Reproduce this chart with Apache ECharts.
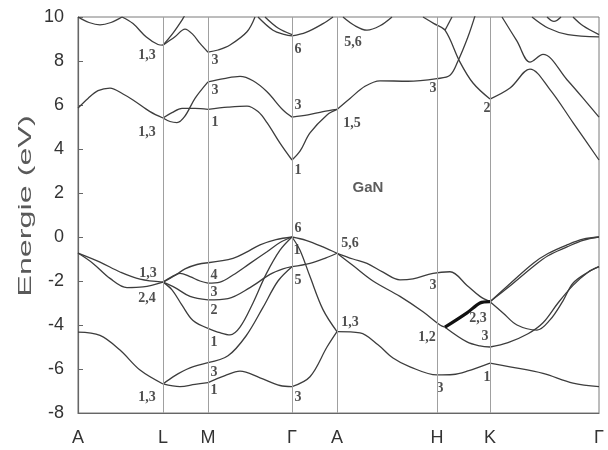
<!DOCTYPE html>
<html><head><meta charset="utf-8">
<script src="https://cdn.jsdelivr.net/npm/echarts@6/dist/echarts.min.js"></script>
<style>html,body{margin:0;padding:0;background:#fff}#c{width:608px;height:450px}</style>
</head><body><div id="c"></div>
<script>
// k-path: high-symmetry points (path coordinate) and their labels
const kPoints = [0, 85, 130, 214, 259, 359, 412, 521];
const kLabels = ['A', 'L', 'M', 'Γ', 'A', 'H', 'K', 'Γ'];

// Conduction bands [k, E(eV)]
const cAL1 = [[0,5.86],[10,6.3],[20,6.65],[32,6.77],[45,6.5],[55,6.23],[72,5.7],[85,5.41]];
const cAL2 = [[0,10],[11,9.75],[22,9.64],[33,9.75],[44,10]];
const cAL3 = [[44,10],[55,9.7],[68,9.1],[80,8.75],[85,8.72]];
const cLM1 = [[85,8.72],[95,9.27],[104,9.86],[107,10.1]];
const cLM2 = [[85,8.72],[97,9.1],[107,9.45],[115,9.2],[122,8.8],[130,8.4]];
const cLM3 = [[85,5.41],[92,5.25],[99,5.2],[107,5.5],[117,6.3],[130,7.05]];
const cLM4 = [[85,5.41],[94,5.65],[104,5.85],[117,5.85],[130,5.8]];
const cMG1 = [[130,7.05],[146,7.2],[162,7.3],[175,7.1],[189,6.6],[205,5.77],[214,5.45]];
const cMG2 = [[130,5.8],[150,5.9],[169,5.95],[180,5.7],[189,5.2],[202,4.27],[214,3.5]];
const cMG3 = [[130,8.4],[140,8.5],[152,8.73],[169,9.33],[177,10]];
const cMG4 = [[180,10],[195,9.4],[207,9.2],[214,9.14]];
const cMG5 = [[187,10],[200,9.5],[214,9.2]];
const cGA1 = [[214,5.45],[230,5.55],[245,5.7],[259,5.8]];
const cGA2 = [[214,3.5],[222,3.9],[232,4.73],[249,5.55],[259,5.8]];
const cGA3 = [[214,9.14],[228,9.3],[245,9.7],[255,10]];
const cAH1 = [[259,5.8],[272,6.3],[287,6.85],[302,7.1],[330,7.08],[359,7.2],[372,7.35],[380,8.0],[390,9.1],[397,10.05]];
const cAH2 = [[265,10],[277,9.6],[289,9.4],[302,9.6],[314,10]];
const cHK1 = [[345,10],[356,9.7],[367,9.4],[382,7.95],[395,7.0],[412,6.27]];
const cHK2 = [[367,9.4],[374,10]];
const cKG1 = [[412,6.27],[432,6.77],[452,7.63],[472,6.7],[495,5.2],[521,3.5]];
const cKG2 = [[424,10],[439,8.9],[452,7.95],[465,8.3],[489,7.15],[509,6.1],[521,5.45]];
const cKG3 = [[454,10],[470,9.5],[490,9.2],[521,9.1]];
const cKG4 = [[495,10],[505,9.6],[521,9.2]];
const cKG5 = [[469,10],[476,9.8],[483,10]];

// Valence bands [k, E(eV)]
const vAL1 = [[0,-0.73],[22,-1.14],[42,-1.59],[62,-1.92],[85,-2.05]];
const vAL2 = [[0,-0.73],[15,-1.2],[32,-1.88],[49,-2.3],[65,-2.27],[85,-2.05]];
const vAL3 = [[0,-4.32],[22,-4.47],[42,-5.14],[62,-6.05],[85,-6.68]];
const vLM1 = [[85,-2.05],[97,-1.75],[107,-1.45],[119,-1.25],[130,-1.17]];
const vLM2 = [[85,-2.05],[94,-1.8],[102,-1.65],[112,-1.8],[122,-2.0],[130,-2.1]];
const vLM3 = [[85,-2.05],[97,-2.3],[112,-2.7],[130,-2.86]];
const vLM4 = [[85,-2.05],[94,-2.4],[104,-3.1],[115,-3.8],[130,-4.15]];
const vLM5 = [[85,-6.68],[97,-6.3],[112,-5.95],[130,-5.71]];
const vLM6 = [[85,-6.68],[102,-6.8],[117,-6.7],[130,-6.62]];
const vMG1 = [[130,-1.17],[155,-0.97],[168,-0.7],[182,-0.36],[198,-0.12],[214,0]];
const vMG2 = [[130,-2.1],[142,-2.05],[155,-1.73],[172,-1.2],[189,-0.67],[202,-0.25],[214,0]];
const vMG3 = [[130,-2.86],[150,-2.8],[172,-2.3],[192,-1.7],[205,-1.45],[214,-1.35]];
const vMG4 = [[130,-4.15],[142,-4.35],[152,-4.45],[162,-4.1],[175,-3.0],[188,-1.7],[202,-0.6],[214,0]];
const vMG5 = [[130,-5.71],[150,-5.4],[168,-4.5],[185,-3.2],[200,-2.0],[214,-1.35]];
const vMG6 = [[130,-6.62],[147,-6.3],[162,-6.1],[182,-6.4],[202,-6.75],[214,-6.8]];
const vGA1 = [[214,0],[228,-0.15],[245,-0.45],[259,-0.74]];
const vGA2 = [[214,-1.35],[232,-1.2],[248,-0.95],[259,-0.74]];
const vGA3 = [[214,0],[222,-0.6],[232,-1.8],[245,-3.3],[259,-4.3]];
const vGA4 = [[214,-6.8],[232,-6.35],[249,-5.0],[259,-4.3]];
const vAK1 = [[259,-0.74],[275,-1.0],[289,-1.2],[305,-1.6],[322,-1.95],[335,-1.9],[355,-1.65],[372,-1.58],[389,-2.2],[402,-2.7],[412,-2.94]];
const vAH2 = [[259,-0.74],[275,-1.3],[295,-2.0],[322,-2.7],[345,-3.4],[362,-4.0],[367,-4.1]];
const vAK3 = [[259,-4.3],[282,-4.36],[300,-4.9],[315,-5.5],[332,-5.9],[359,-6.27],[375,-6.25],[389,-6.1],[412,-5.73]];
const vHKbold = [[367,-4.1],[389,-3.45],[402,-3.0],[412,-2.94]];
const vHK2 = [[367,-4.1],[389,-4.77],[402,-4.95],[412,-5.0]];
const vKG1 = [[412,-2.94],[430,-2.2],[455,-1.2],[470,-0.75],[489,-0.36],[505,-0.1],[521,0]];
const vKG2 = [[412,-2.94],[430,-2.3],[455,-1.35],[470,-0.85],[489,-0.45],[505,-0.15],[521,0]];
const vKG3 = [[412,-2.94],[425,-3.45],[439,-4.0],[459,-4.23],[472,-3.77],[485,-2.9],[495,-2.1],[510,-1.6],[521,-1.35]];
const vKG4 = [[412,-5.0],[430,-4.8],[450,-4.4],[465,-3.9],[480,-3.0],[495,-2.2],[510,-1.6],[521,-1.35]];
const vKG5 = [[412,-5.73],[432,-5.9],[465,-6.2],[495,-6.64],[521,-6.8]];

// Symmetry labels of states
const labelText = ['1,3','1,3','3','3','1','6','3','1','5,6','1,5','3','2','1,3','2,4','1,3','4','3','2','1','3','1','6','1','5','5,6','1,3','3','3','1,2','2,3','3','1','3'];
const labelK = [69,69,137,137,137,220,220,220,275,274,355,409,70,69,69,136,136,136,136,136,136,220,219,220,272,272,220,355,349,400,407,409,362];
const labelE = [8.27,4.77,8.05,6.68,5.23,8.55,6.0,3.05,8.86,5.18,6.77,5.86,-1.64,-2.77,-7.27,-1.73,-2.5,-3.32,-4.77,-6.14,-6.95,0.41,-0.59,-1.95,-0.27,-3.86,-7.27,-2.18,-4.55,-3.68,-4.5,-6.36,-6.86];
const materialName = 'GaN';
const materialPos = [290, 2.23];

const thinBands = [cAL1,cAL2,cAL3,cLM1,cLM2,cLM3,cLM4,cMG1,cMG2,cMG3,cMG4,cMG5,cGA1,cGA2,cGA3,cAH1,cAH2,cHK1,cHK2,cKG1,cKG2,cKG3,cKG4,cKG5,
  vAL1,vAL2,vAL3,vLM1,vLM2,vLM3,vLM4,vLM5,vLM6,vMG1,vMG2,vMG3,vMG4,vMG5,vMG6,vGA1,vGA2,vGA3,vGA4,vAK1,vAH2,vAK3,vHK2,vKG1,vKG2,vKG3,vKG4,vKG5];
const boldBands = [vHKbold];

const lineCol = '#3d3d3d';
const series = [];
series.push({
  type: 'line', data: [], silent: true, animation: false,
  markLine: {
    silent: true, animation: false, symbol: ['none','none'], label: {show: false},
    lineStyle: {color: '#a0a0a0', width: 1, type: 'solid'},
    data: kPoints.slice(1, -1).map(k => ({xAxis: k}))
  }
});
thinBands.forEach(b => series.push({
  type: 'line', data: b, smooth: 0.35, symbol: 'none', silent: true, animation: false,
  lineStyle: {color: lineCol, width: 1.3}
}));
boldBands.forEach(b => series.push({
  type: 'line', data: b, smooth: 0.3, symbol: 'none', silent: true, animation: false,
  lineStyle: {color: '#111', width: 3.2}
}));
series.push({
  type: 'scatter', silent: true, animation: false, symbolSize: 1, itemStyle: {color: 'rgba(0,0,0,0)'},
  data: labelK.map((k, i) => [k, labelE[i], labelText[i]]),
  label: {show: true, position: 'inside', formatter: p => p.value[2],
    fontFamily: 'Liberation Serif', fontWeight: 'bold', fontSize: 14, color: '#222'},
  labelLayout: {hideOverlap: false}
});
series.push({
  type: 'scatter', silent: true, animation: false, symbolSize: 1, itemStyle: {color: 'rgba(0,0,0,0)'},
  data: [[materialPos[0], materialPos[1], materialName]],
  label: {show: true, position: 'inside', formatter: p => p.value[2],
    fontFamily: 'Liberation Sans', fontWeight: 'bold', fontSize: 15, color: '#333'}
});

const chart = echarts.init(document.getElementById('c'), null, {renderer: 'canvas'});
chart.setOption({
  animation: false,
  backgroundColor: '#fff',
  grid: {left: 78, right: 9, top: 17, bottom: 37, show: true, borderColor: '#7a7a7a', borderWidth: 1, backgroundColor: 'transparent'},
  xAxis: {
    type: 'value', min: 0, max: 521,
    axisLine: {show: true, onZero: false, lineStyle: {color: '#666', width: 1.2}},
    axisTick: {show: false}, splitLine: {show: false},
    axisLabel: {customValues: kPoints, formatter: v => kLabels[kPoints.indexOf(v)],
      fontSize: 18, color: '#333', margin: 16, fontFamily: 'Liberation Sans'}
  },
  yAxis: {
    type: 'value', min: -8, max: 10, interval: 2,
    axisLine: {show: true, onZero: false, lineStyle: {color: '#666', width: 1.2}},
    axisTick: {show: true, inside: true, length: 5, lineStyle: {color: '#666'}},
    splitLine: {show: false},
    axisLabel: {fontSize: 18, color: '#333', margin: 14, fontFamily: 'Liberation Sans'}
  },
  graphic: [{
    type: 'text', x: 26, y: 206, rotation: Math.PI / 2, scaleX: 1.7, scaleY: 1,
    style: {text: 'Energie (eV)', fontSize: 19, fontFamily: 'Liberation Sans', fill: '#595959', align: 'center', verticalAlign: 'middle'}
  }],
  series: series
});
</script>
</body></html>
